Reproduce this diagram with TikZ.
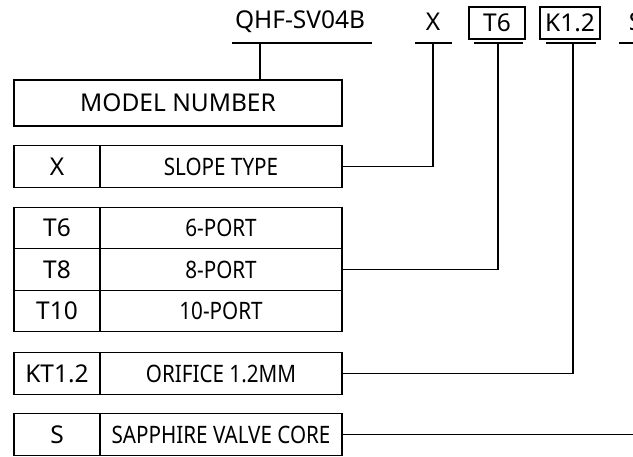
\documentclass[tikz,border=0pt]{standalone}
\usepackage{fontspec}
\usepackage{graphicx}
\setmainfont{Noto Sans}
\usetikzlibrary{positioning}
\newcommand{\narrowtext}[1]{\scalebox{0.86}[1]{#1}}
\begin{document}
\begin{tikzpicture}[x=1pt, y=-1pt, line width=1.4pt, line join=miter,
	bigfont/.style={font=\fontsize{24.5}{28}\selectfont},
	smallfont/.style={font=\fontsize{24}{28}\selectfont},
	codecell/.style={draw, bigfont, minimum width=86pt, minimum height=41.5pt, inner sep=0pt, outer sep=0pt},
	desccell/.style={draw, smallfont, minimum width=242pt, minimum height=41.5pt, inner sep=0pt, outer sep=0pt},
	toplabel/.style={bigfont, inner sep=0pt},
	boxlabel/.style={draw, bigfont, minimum height=32pt, inner sep=3pt, outer sep=0pt}]
	\useasboundingbox (0,0) rectangle (633,457);
	\clip (0,0) rectangle (633,457);
	% model code along the top
	\node[toplabel] (tmodel) at (300,22) {QHF-SV04B};
	\node[toplabel] (tslope) at (433,22) {X};
	\node[boxlabel, minimum width=56pt] (tport) at (497,23) {T6};
	\node[boxlabel, minimum width=60pt] (torif) at (570,23) {K1.2};
	\node[toplabel] (tcore) at (635.5,22) {S};
	\coordinate (umodel) at (260,43);
	\coordinate (uslope) at (433,43);
	\coordinate (uport) at (498,43);
	\coordinate (uorif) at (573,43);
	\draw (232,43) -- (372,43);
	\draw (415,43) -- (452,43);
	\draw (474,43) -- (523,43);
	\draw (546,43) -- (596,43);
	\draw (619,43) -- (660,43);
	% table on the left
	\node[draw, bigfont, minimum width=328pt, minimum height=46pt, inner sep=0pt] (model) at (178,103) {MODEL NUMBER};
	\node[codecell] (xcode) at (57,166.5) {X};
	\node[desccell, right=0pt of xcode] (xdesc) {\narrowtext{SLOPE TYPE}};
	\node[codecell] (tsix) at (57,228) {T6};
	\node[desccell, right=0pt of tsix] (tsixd) {\narrowtext{6-PORT}};
	\node[codecell, below=0pt of tsix] (teight) {T8};
	\node[desccell, right=0pt of teight] (teightd) {\narrowtext{8-PORT}};
	\node[codecell, below=0pt of teight] (tten) {T10};
	\node[desccell, right=0pt of tten] (ttend) {\narrowtext{10-PORT}};
	\node[codecell] (kcode) at (57,373.5) {KT1.2};
	\node[desccell, right=0pt of kcode] (kdesc) {\narrowtext{ORIFICE 1.2MM}};
	\node[codecell] (scode) at (57,434.5) {S};
	\node[desccell, right=0pt of scode] (sdesc) {\narrowtext{SAPPHIRE VALVE CORE}};
	% connectors
	\draw (umodel) -- (umodel |- model.north);
	\draw (uslope) |- (xdesc.east);
	\draw (uport) |- (teightd.east);
	\draw (uorif) |- (kdesc.east);
	\draw (sdesc.east) -- ++(310,0);
\end{tikzpicture}
\end{document}
